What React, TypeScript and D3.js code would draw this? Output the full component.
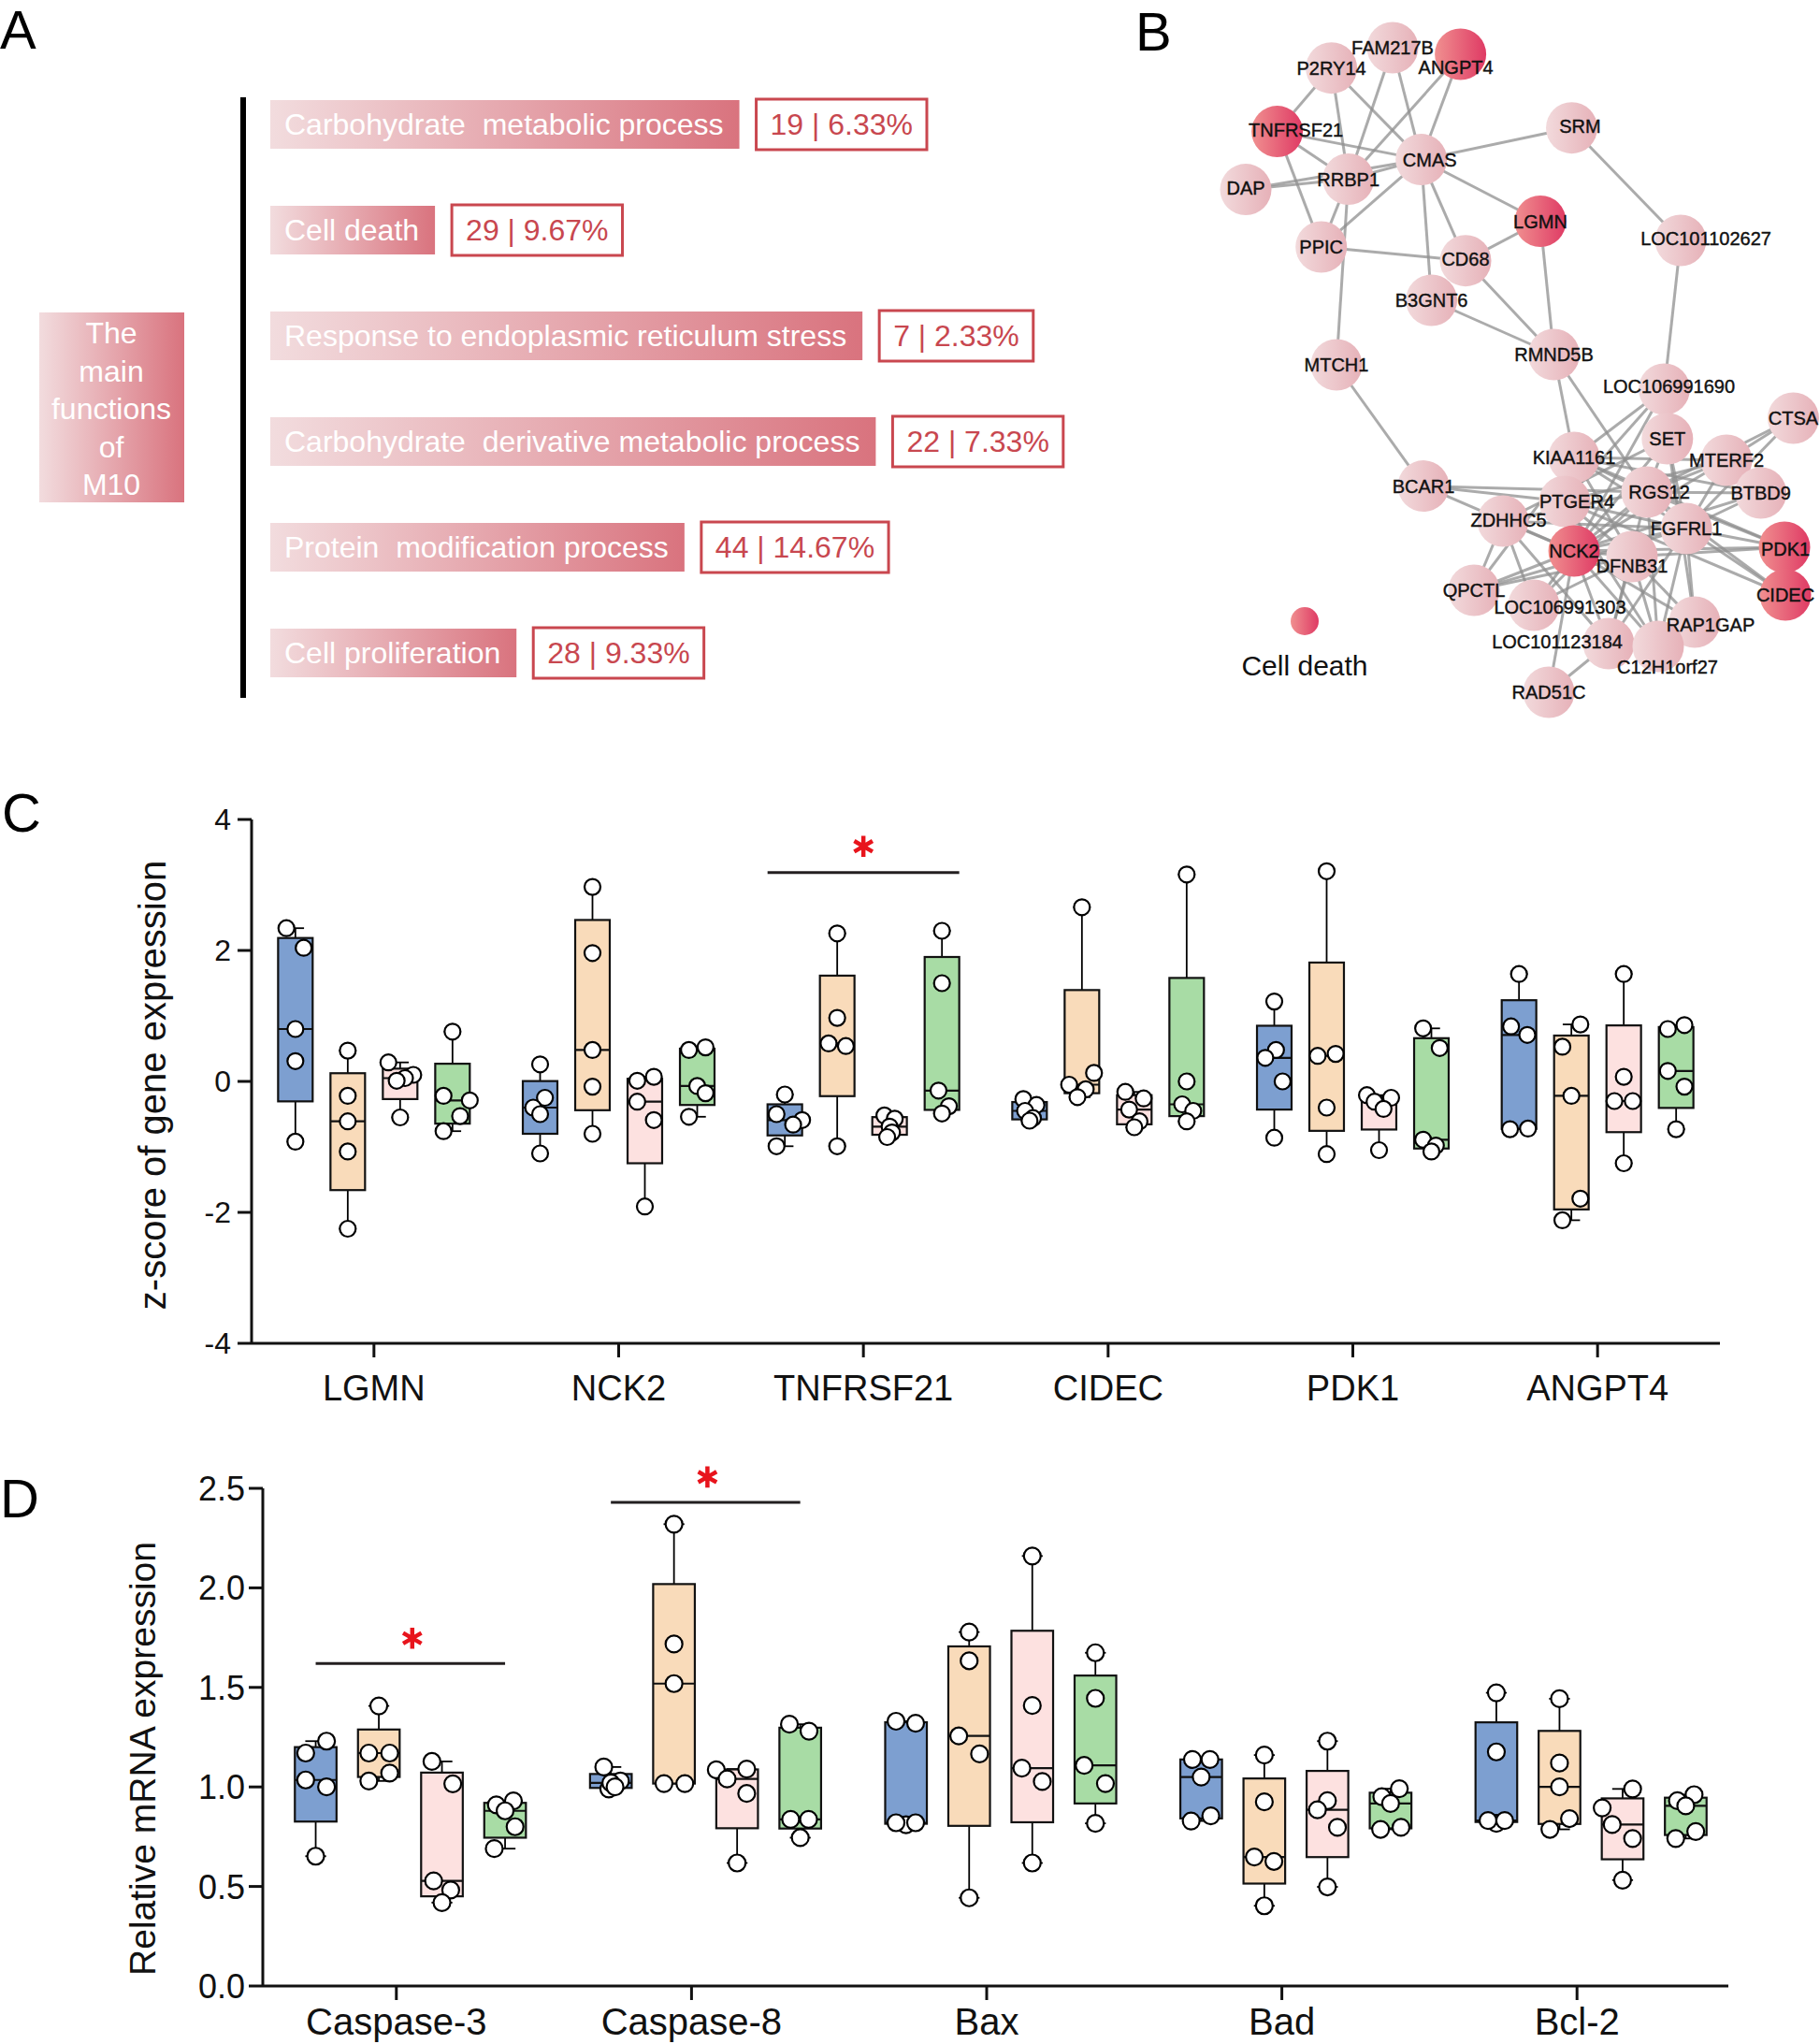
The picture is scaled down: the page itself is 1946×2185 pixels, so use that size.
import React from "react"
import * as d3 from "d3"

const FONT = "'Liberation Sans', Arial, Helvetica, sans-serif"
const width = 1946
const height = 2185

// ---------- panel A: main functions of M10
const functionNames = [
  "Carbohydrate  metabolic process",
  "Cell death",
  "Response to endoplasmic reticulum stress",
  "Carbohydrate  derivative metabolic process",
  "Protein  modification process",
  "Cell proliferation",
]
const functionCounts = [19, 29, 7, 22, 44, 28]
const moduleSize = 300
const moduleTitle = ["The", "main", "functions", "of", "M10"]

// ---------- panel B: network
const netNodes = [
  "FAM217B", "P2RY14", "ANGPT4", "TNFRSF21", "SRM", "CMAS", "DAP", "RRBP1", "LGMN",
  "LOC101102627", "PPIC", "CD68", "B3GNT6", "RMND5B", "MTCH1", "LOC106991690", "CTSA",
  "SET", "KIAA1161", "MTERF2", "BCAR1", "RGS12", "BTBD9", "PTGER4", "ZDHHC5", "FGFRL1",
  "NCK2", "PDK1", "DFNB31", "QPCTL", "CIDEC", "LOC106991303", "RAP1GAP", "LOC101123184",
  "C12H1orf27", "RAD51C",
]
const netX = [199, 133.6, 271.6, 75.6, 390.5, 229.7, 42, 151.7, 357, 507, 122.7, 277, 240.6, 371.5, 139, 489.5, 627.4, 492.8, 393, 556, 232, 471, 592.7, 383, 317, 513, 393, 618, 455, 286, 619, 350, 522, 430, 483, 366]
const netY = [51, 72.7, 58, 140.6, 136.7, 170.6, 202.6, 191.5, 236.5, 257, 264, 278.7, 321, 379, 390, 416, 447, 469, 489, 492, 519.6, 526, 527, 536, 557, 565, 589, 585, 595, 631, 636, 647, 665, 688, 691, 740]
const deathGenes = ["ANGPT4", "TNFRSF21", "LGMN", "NCK2", "PDK1", "CIDEC"]
const netEdges = [
  ["P2RY14", "TNFRSF21"], ["P2RY14", "RRBP1"], ["P2RY14", "CMAS"], ["FAM217B", "RRBP1"],
  ["FAM217B", "CMAS"], ["ANGPT4", "RRBP1"], ["ANGPT4", "CMAS"], ["TNFRSF21", "CMAS"],
  ["TNFRSF21", "RRBP1"], ["TNFRSF21", "PPIC"], ["DAP", "RRBP1"], ["DAP", "CMAS"],
  ["RRBP1", "CMAS"], ["RRBP1", "PPIC"], ["RRBP1", "MTCH1"], ["CMAS", "PPIC"], ["CMAS", "SRM"],
  ["CMAS", "LGMN"], ["CMAS", "CD68"], ["CMAS", "B3GNT6"], ["PPIC", "CD68"], ["CD68", "LGMN"],
  ["CD68", "RMND5B"], ["B3GNT6", "RMND5B"], ["LGMN", "RMND5B"], ["SRM", "LOC101102627"],
  ["LOC101102627", "LOC106991690"], ["MTCH1", "BCAR1"], ["RMND5B", "KIAA1161"], ["RMND5B", "RGS12"],
  ["LOC106991690", "SET"], ["LOC106991690", "PTGER4"], ["LOC106991690", "KIAA1161"], ["LOC106991690", "NCK2"],
  ["CTSA", "RGS12"], ["CTSA", "FGFRL1"], ["CTSA", "MTERF2"], ["BCAR1", "PTGER4"], ["BCAR1", "NCK2"],
  ["BCAR1", "RGS12"], ["KIAA1161", "RGS12"], ["KIAA1161", "MTERF2"], ["KIAA1161", "BTBD9"],
  ["KIAA1161", "PDK1"], ["KIAA1161", "DFNB31"], ["KIAA1161", "QPCTL"], ["KIAA1161", "FGFRL1"],
  ["SET", "RGS12"], ["SET", "NCK2"], ["SET", "FGFRL1"], ["SET", "RAP1GAP"], ["SET", "ZDHHC5"],
  ["MTERF2", "RGS12"], ["MTERF2", "FGFRL1"], ["MTERF2", "NCK2"], ["MTERF2", "PTGER4"],
  ["RGS12", "BTBD9"], ["RGS12", "FGFRL1"], ["RGS12", "PDK1"], ["RGS12", "CIDEC"], ["RGS12", "NCK2"],
  ["RGS12", "LOC101123184"], ["RGS12", "C12H1orf27"], ["RGS12", "ZDHHC5"], ["BTBD9", "FGFRL1"],
  ["BTBD9", "NCK2"], ["PTGER4", "FGFRL1"], ["PTGER4", "DFNB31"], ["PTGER4", "C12H1orf27"],
  ["PTGER4", "CIDEC"], ["ZDHHC5", "NCK2"], ["ZDHHC5", "FGFRL1"], ["ZDHHC5", "QPCTL"],
  ["ZDHHC5", "LOC106991303"], ["ZDHHC5", "LOC101123184"], ["FGFRL1", "PDK1"], ["FGFRL1", "CIDEC"],
  ["FGFRL1", "NCK2"], ["FGFRL1", "RAP1GAP"], ["FGFRL1", "C12H1orf27"], ["FGFRL1", "LOC101123184"],
  ["FGFRL1", "QPCTL"], ["NCK2", "PDK1"], ["NCK2", "DFNB31"], ["NCK2", "QPCTL"], ["NCK2", "LOC106991303"],
  ["NCK2", "LOC101123184"], ["NCK2", "C12H1orf27"], ["NCK2", "RAP1GAP"], ["NCK2", "RAD51C"],
  ["DFNB31", "PDK1"], ["DFNB31", "RAP1GAP"], ["DFNB31", "C12H1orf27"], ["DFNB31", "LOC101123184"],
  ["DFNB31", "QPCTL"], ["DFNB31", "LOC106991303"], ["LOC106991303", "RGS12"], ["LOC101123184", "RAD51C"],
]
// label nudges, in network units
const labelShift: Record<string, [number, number]> = {
  ANGPT4: [-5, 14], TNFRSF21: [20, -2], SRM: [9, -2], CMAS: [9, 0], DAP: [0, -2],
  LOC101102627: [27, -2], CD68: [0, -2], LOC106991690: [5, -3], RGS12: [13, 0], PTGER4: [13, 0],
  ZDHHC5: [6, -1], LOC106991303: [28, 2], RAP1GAP: [17, 3], LOC101123184: [-55, -2],
  C12H1orf27: [10, 22], DFNB31: [0, 10], PDK1: [1, 2],
}

// ---------- panel C: z-score, 4 groups x 5 samples per gene
const groups = ["group1", "group2", "group3", "group4"]
const groupFill = ["#7d9fd0", "#f9dbba", "#fde1e0", "#a8dca5"]
const zGenes = ["LGMN", "NCK2", "TNFRSF21", "CIDEC", "PDK1", "ANGPT4"]
const zScores = [
  [[2.34, 2.04, 0.8, 0.31, -0.92], [0.47, -0.22, -0.61, -1.07, -2.25], [0.29, 0.1, 0.05, 0.01, -0.55], [0.76, -0.22, -0.29, -0.53, -0.76]],
  [[0.26, -0.25, -0.4, -0.5, -1.1], [2.97, 1.96, 0.48, -0.08, -0.8], [0.07, 0.01, -0.31, -0.59, -1.91], [0.52, 0.48, -0.07, -0.18, -0.54]],
  [[-0.2, -0.5, -0.59, -0.66, -0.99], [2.26, 0.97, 0.58, 0.54, -0.99], [-0.52, -0.57, -0.69, -0.78, -0.85], [2.3, 1.5, -0.14, -0.38, -0.49]],
  [[-0.27, -0.36, -0.45, -0.56, -0.6], [2.66, 0.13, -0.05, -0.12, -0.24], [-0.16, -0.26, -0.43, -0.61, -0.7], [3.16, 0.0, -0.35, -0.45, -0.61]],
  [[1.22, 0.48, 0.36, 0.0, -0.86], [3.21, 0.42, 0.39, -0.4, -1.11], [-0.21, -0.25, -0.31, -0.42, -1.05], [0.81, 0.51, -0.89, -0.98, -1.07]],
  [[1.64, 0.84, 0.71, -0.72, -0.73], [0.87, 0.53, -0.22, -1.79, -2.12], [1.64, 0.07, -0.3, -0.3, -1.25], [0.86, 0.8, 0.16, -0.08, -0.73]],
]
// horizontal scatter of each dot, as a fraction of box width
const zJitter = [
  [[-0.26, 0.24, 0, 0, 0], [0, 0, 0, 0, 0], [-0.34, 0.38, 0.14, -0.1, 0], [0, -0.26, 0.5, 0.22, -0.26]],
  [[0, 0.14, -0.2, 0, 0], [0, 0, 0, 0, 0], [0.26, -0.22, -0.22, 0.26, 0], [0.24, -0.24, 0, 0.24, -0.24]],
  [[0, -0.24, 0.5, 0.24, -0.24], [0, 0, -0.25, 0.25, 0], [-0.15, 0.15, 0, 0.07, -0.07], [0, 0, -0.1, 0.2, 0]],
  [[-0.18, 0.2, -0.13, 0.1, 0], [0, 0.35, -0.37, 0.11, -0.13], [-0.26, 0.27, -0.15, 0.15, 0], [0, 0, -0.13, 0.19, 0]],
  [[0, 0.05, -0.26, 0.24, 0], [0, 0.26, -0.26, 0, 0], [-0.35, 0.35, -0.13, 0.13, 0], [-0.24, 0.24, -0.24, 0.13, 0]],
  [[0, -0.23, 0.24, 0.26, -0.26], [0.26, -0.26, 0, 0.26, -0.26], [0, 0, -0.27, 0.26, 0], [0.24, -0.24, -0.24, 0.24, 0]],
]
const zTicks = [-4, -2, 0, 2, 4]
const zSignif = [{ gene: "TNFRSF21", level: 3.19 }]

// ---------- panel D: relative mRNA expression
const mrnaGenes = ["Caspase-3", "Caspase-8", "Bax", "Bad", "Bcl-2"]
const mrnaLevels = [
  [[1.23, 1.17, 1.035, 1.0, 0.652], [1.407, 1.17, 1.17, 1.07, 1.03], [1.128, 1.016, 0.528, 0.482, 0.419], [0.93, 0.91, 0.88, 0.8, 0.69]],
  [[0.99, 1.1, 1.03, 1.02, 1.0], [2.32, 1.718, 1.519, 1.017, 1.017], [1.09, 1.086, 1.04, 0.967, 0.618], [1.315, 1.28, 0.837, 0.837, 0.745]],
  [[0.81, 1.33, 1.32, 0.82, 0.82], [1.778, 1.634, 1.256, 1.166, 0.443], [2.16, 1.409, 1.094, 1.027, 0.618], [1.674, 1.445, 1.108, 1.017, 0.817]],
  [[1.138, 1.138, 1.05, 0.855, 0.829], [1.16, 0.925, 0.648, 0.626, 0.403], [1.23, 0.931, 0.885, 0.797, 0.498], [0.991, 0.951, 0.917, 0.797, 0.787]],
  [[0.817, 1.473, 1.176, 0.831, 0.831], [1.443, 1.12, 1.0, 0.841, 0.787], [0.99, 0.895, 0.811, 0.741, 0.532], [0.961, 0.931, 0.905, 0.776, 0.741]],
]
const mrnaJitter = [
  [[0.26, -0.24, -0.24, 0.26, 0], [0, -0.24, 0.26, 0.26, -0.24], [-0.24, 0.26, -0.2, 0.21, 0], [0.2, -0.21, 0, 0.24, -0.26]],
  [[-0.05, -0.17, 0.23, 0, 0.1], [0, 0, 0, -0.24, 0.26], [0.23, -0.5, -0.24, 0.23, 0], [-0.26, 0.21, -0.23, 0.2, 0]],
  [[0, -0.24, 0.23, -0.24, 0.23], [0, 0, -0.25, 0.25, 0], [0, 0, -0.25, 0.24, 0], [0, 0, -0.27, 0.24, 0]],
  [[-0.21, 0.21, 0, 0.23, -0.24], [0, 0, -0.24, 0.23, 0], [0, 0, -0.24, 0.24, 0], [0.21, -0.21, 0, 0.25, -0.24]],
  [[0, 0, 0, -0.2, 0.2], [0, 0, 0, 0.24, -0.23], [0.24, -0.49, -0.25, 0.24, 0], [0.2, -0.2, 0, 0.24, -0.24]],
]
const mrnaTicks = [0, 0.5, 1, 1.5, 2, 2.5]
const mrnaSignif = [
  { gene: "Caspase-3", level: 1.62 },
  { gene: "Caspase-8", level: 2.43 },
]

// Prism style quartiles: position (n + 1) * p
const boxStats = (vals: number[]) => {
  const s = [...vals].sort(d3.ascending)
  const q = (p: number) => {
    const pos = (s.length + 1) * p - 1
    const lo = Math.max(0, Math.floor(pos))
    const hi = Math.min(s.length - 1, Math.ceil(pos))
    return s[lo] + (s[hi] - s[lo]) * (pos - lo)
  }
  return { min: s[0], q1: q(0.25), med: q(0.5), q3: q(0.75), max: s[s.length - 1] }
}

const measure = (txt: string, size: number) => {
  const ctx = document.createElement("canvas").getContext("2d")
  if (!ctx) return txt.length * size * 0.5
  ctx.font = `${size}px 'Liberation Sans', Arial`
  return ctx.measureText(txt).width
}

const star = d3.symbol().type(d3.symbolAsterisk).size(360)()

const BoxPlots = ({ cats, values, jitter, x, sub, y, r }: any) => {
  const bw = sub.bandwidth()
  return (
    <g>
      {cats.map((c: string, i: number) =>
        groups.map((g, j) => {
          const cx = x(c) + x.bandwidth() / 2 + sub(g) + bw / 2
          const st = boxStats(values[i][j])
          const cap = bw * 0.25
          return (
            <g key={c + g}>
              <line x1={cx} x2={cx} y1={y(st.max)} y2={y(st.q3)} stroke="#000" strokeWidth={1.8} />
              <line x1={cx} x2={cx} y1={y(st.q1)} y2={y(st.min)} stroke="#000" strokeWidth={1.8} />
              <line x1={cx - cap} x2={cx + cap} y1={y(st.max)} y2={y(st.max)} stroke="#000" strokeWidth={1.8} />
              <line x1={cx - cap} x2={cx + cap} y1={y(st.min)} y2={y(st.min)} stroke="#000" strokeWidth={1.8} />
              <rect
                x={cx - bw / 2}
                y={y(st.q3)}
                width={bw}
                height={Math.max(1, y(st.q1) - y(st.q3))}
                fill={groupFill[j]}
                stroke="#111"
                strokeWidth={2.2}
              />
              <line x1={cx - bw / 2} x2={cx + bw / 2} y1={y(st.med)} y2={y(st.med)} stroke="#111" strokeWidth={2.2} />
              {values[i][j].map((v: number, k: number) => (
                <circle
                  key={k}
                  cx={cx + jitter[i][j][k] * bw}
                  cy={y(v)}
                  r={r}
                  fill="#fff"
                  stroke="#000"
                  strokeWidth={2.2}
                />
              ))}
            </g>
          )
        })
      )}
    </g>
  )
}

const App = () => {
  // ----- A
  const rowY = d3.scalePoint().domain(functionNames).range([133, 698])
  const barX = 289
  const barH = 52

  // ----- B
  const netXs = d3.scaleLinear().domain([0, 656]).range([1290, 1946])
  const netYs = d3.scaleLinear().domain([0, 760]).range([0, 760])
  const pos = new Map(netNodes.map((n, i) => [n, [netXs(netX[i]), netYs(netY[i])]]))

  // ----- C
  const cX = d3.scaleBand().domain(zGenes).range([269, 1839])
  const cSub = d3.scaleBand().domain(groups).range([-112, 112]).paddingInner(0.34).paddingOuter(0.17)
  const cY = d3.scaleLinear().domain([-4, 4]).range([1436, 876])

  // ----- D
  const dX = d3.scaleBand().domain(mrnaGenes).range([266, 1844])
  const dSub = d3.scaleBand().domain(groups).range([-120, 150]).paddingInner(0.34).paddingOuter(0.17)
  const dY = d3.scaleLinear().domain([0, 2.5]).range([2123, 1591])
  const dAxisX = 281

  return (
    <svg
      width={width}
      height={height}
      style={{ position: "absolute", left: 0, top: 0, background: "#fff" }}
      fontFamily={FONT}
    >
      <defs>
        <linearGradient id="barGrad" x1="0" x2="1" y1="0" y2="0">
          <stop offset="0" stopColor="#f2dcde" />
          <stop offset="1" stopColor="#d9737e" />
        </linearGradient>
        <linearGradient id="nodeLight" x1="0" x2="1" y1="0" y2="0">
          <stop offset="0" stopColor="#f2dadc" />
          <stop offset="1" stopColor="#e6b1b8" />
        </linearGradient>
        <linearGradient id="nodeDark" x1="0" x2="1" y1="0" y2="0">
          <stop offset="0" stopColor="#f09090" />
          <stop offset="1" stopColor="#df3a64" />
        </linearGradient>
      </defs>
      <rect width={width} height={height} fill="#fff" />

      {/* panel letters */}
      <text x={0} y={52} fontSize={58}>A</text>
      <text x={1214} y={54} fontSize={58}>B</text>
      <text x={2} y={889} fontSize={58}>C</text>
      <text x={0} y={1622} fontSize={58}>D</text>

      {/* ---------------- A ---------------- */}
      <g>
        <rect x={42} y={334} width={155} height={203} fill="url(#barGrad)" />
        {moduleTitle.map((t, i) => (
          <text key={t} x={119} y={367 + i * 40.6} fontSize={32} fill="#fff" textAnchor="middle">
            {t}
          </text>
        ))}
        <line x1={260} x2={260} y1={104} y2={746} stroke="#000" strokeWidth={6} />
        {functionNames.map((name, i) => {
          const cy = rowY(name)!
          const bw = measure(name, 32) + 32
          const label = `${functionCounts[i]} | ${((functionCounts[i] / moduleSize) * 100).toFixed(2)}%`
          const lw = measure(label, 32) + 30
          const lx = barX + bw + 18
          return (
            <g key={name}>
              <rect x={barX} y={cy - barH / 2} width={bw} height={barH} fill="url(#barGrad)" />
              <text x={barX + 15} y={cy + 11} fontSize={32} fill="#fff" style={{ whiteSpace: "pre" }}>
                {name}
              </text>
              <rect x={lx} y={cy - 27} width={lw} height={54} fill="#fff" stroke="#c9474f" strokeWidth={3} />
              <text x={lx + 15} y={cy + 11} fontSize={32} fill="#c8474f">
                {label}
              </text>
            </g>
          )
        })}
      </g>

      {/* ---------------- B ---------------- */}
      <g>
        {netEdges.map(([a, b], i) => {
          const pa = pos.get(a)!
          const pb = pos.get(b)!
          return (
            <line
              key={i}
              x1={pa[0]}
              y1={pa[1]}
              x2={pb[0]}
              y2={pb[1]}
              stroke="#8f8f8f"
              strokeOpacity={0.75}
              strokeWidth={3}
            />
          )
        })}
        {netNodes.map((n) => {
          const p = pos.get(n)!
          return (
            <circle
              key={n}
              cx={p[0]}
              cy={p[1]}
              r={27.5}
              fill={deathGenes.includes(n) ? "url(#nodeDark)" : "url(#nodeLight)"}
            />
          )
        })}
        {netNodes.map((n) => {
          const p = pos.get(n)!
          const s = labelShift[n] || [0, 0]
          return (
            <text
              key={n}
              x={p[0] + s[0]}
              y={p[1] + s[1] + 7}
              fontSize={20}
              textAnchor="middle"
              fill="#111"
              stroke="#111"
              strokeWidth={0.4}
            >
              {n}
            </text>
          )
        })}
        <circle cx={1395} cy={664} r={15} fill="url(#nodeDark)" />
        <text x={1395} y={722} fontSize={30} textAnchor="middle" fill="#111">
          Cell death
        </text>
      </g>

      {/* ---------------- C ---------------- */}
      <g>
        <text
          transform={`translate(177, 1160) rotate(-90)`}
          fontSize={40}
          textAnchor="middle"
          fill="#111"
        >
          z-score of gene expression
        </text>
        <line x1={269} x2={269} y1={cY(4)} y2={cY(-4)} stroke="#111" strokeWidth={3} />
        {zTicks.map((t) => (
          <g key={t}>
            <line x1={254} x2={269} y1={cY(t)} y2={cY(t)} stroke="#111" strokeWidth={3} />
            <text x={247} y={cY(t) + 11} fontSize={32} textAnchor="end" fill="#111">
              {String(t)}
            </text>
          </g>
        ))}
        <line x1={269} x2={1839} y1={cY(-4)} y2={cY(-4)} stroke="#111" strokeWidth={3} />
        {zGenes.map((g) => {
          const cx = cX(g)! + cX.bandwidth() / 2
          return (
            <g key={g}>
              <line x1={cx} x2={cx} y1={cY(-4)} y2={cY(-4) + 15} stroke="#111" strokeWidth={3} />
              <text x={cx} y={1497} fontSize={38} textAnchor="middle" fill="#111">
                {g}
              </text>
            </g>
          )
        })}
        <BoxPlots cats={zGenes} values={zScores} jitter={zJitter} x={cX} sub={cSub} y={cY} r={8.5} />
        {zSignif.map((s) => {
          const c = cX(s.gene)! + cX.bandwidth() / 2
          const x1 = c + cSub(groups[0])!
          const x2 = c + cSub(groups[3])! + cSub.bandwidth()
          return (
            <g key={s.gene}>
              <line x1={x1} x2={x2} y1={cY(s.level)} y2={cY(s.level)} stroke="#231f20" strokeWidth={3} />
              <path d={star!} transform={`translate(${(x1 + x2) / 2}, ${cY(s.level) - 28})`} stroke="#e8141c" strokeWidth={4.5} fill="none" />
            </g>
          )
        })}
      </g>

      {/* ---------------- D ---------------- */}
      <g>
        <text
          transform={`translate(166, 1880) rotate(-90)`}
          fontSize={39}
          textAnchor="middle"
          fill="#111"
        >
          Relative mRNA expression
        </text>
        <line x1={dAxisX} x2={dAxisX} y1={dY(2.5)} y2={dY(0)} stroke="#111" strokeWidth={3} />
        {mrnaTicks.map((t) => (
          <g key={t}>
            <line x1={dAxisX - 15} x2={dAxisX} y1={dY(t)} y2={dY(t)} stroke="#111" strokeWidth={3} />
            <text x={262} y={dY(t) + 13} fontSize={36} textAnchor="end" fill="#111">
              {d3.format(".1f")(t)}
            </text>
          </g>
        ))}
        <line x1={dAxisX} x2={1848} y1={dY(0)} y2={dY(0)} stroke="#111" strokeWidth={3} />
        {mrnaGenes.map((g) => {
          const cx = dX(g)! + dX.bandwidth() / 2
          return (
            <g key={g}>
              <line x1={cx} x2={cx} y1={dY(0)} y2={dY(0) + 15} stroke="#111" strokeWidth={3} />
              <text x={cx} y={2175} fontSize={40} textAnchor="middle" fill="#111">
                {g}
              </text>
            </g>
          )
        })}
        <BoxPlots cats={mrnaGenes} values={mrnaLevels} jitter={mrnaJitter} x={dX} sub={dSub} y={dY} r={9} />
        {mrnaSignif.map((s) => {
          const c = dX(s.gene)! + dX.bandwidth() / 2
          const x1 = c + dSub(groups[0])! + dSub.bandwidth() / 2
          const x2 = c + dSub(groups[3])! + dSub.bandwidth() / 2
          return (
            <g key={s.gene}>
              <line x1={x1} x2={x2} y1={dY(s.level)} y2={dY(s.level)} stroke="#231f20" strokeWidth={3} />
              <path d={star!} transform={`translate(${(x1 + x2) / 2 + 2}, ${dY(s.level) - 27})`} stroke="#e8141c" strokeWidth={4.5} fill="none" />
            </g>
          )
        })}
      </g>
    </svg>
  )
}

export default App
